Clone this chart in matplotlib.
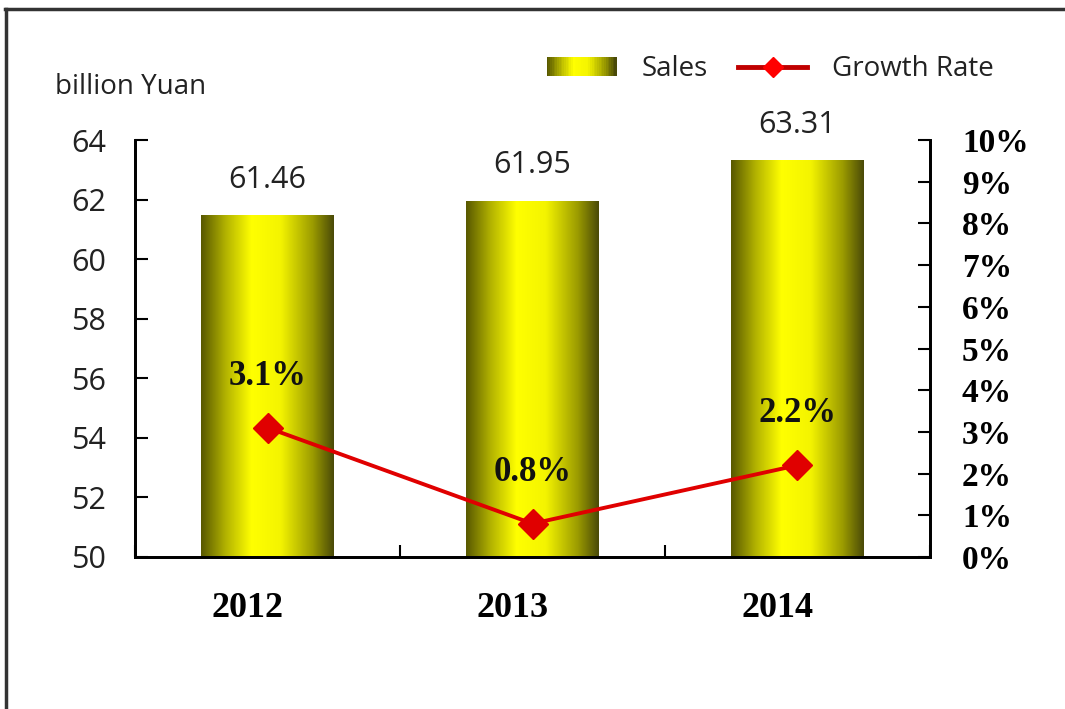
import matplotlib.pyplot as plt
import numpy as np
from matplotlib.colors import LinearSegmentedColormap
from matplotlib.lines import Line2D
from matplotlib.patches import Rectangle
from matplotlib.legend_handler import HandlerBase
from matplotlib.ticker import FuncFormatter, MultipleLocator
from matplotlib.transforms import ScaledTranslation

years = ["2012", "2013", "2014"]
sales = [61.46, 61.95, 63.31]          # billion Yuan
growth = [3.1, 0.8, 2.2]               # percent

SANS = ["Open Sans", "DejaVu Sans"]
SERIF = ["Liberation Serif", "DejaVu Serif"]

# olive -> yellow -> olive shading used for the cylinders
gold = LinearSegmentedColormap.from_list("gold", [
    (0.0, "#585800"), (0.18, "#b0b000"), (0.38, "#ffff00"),
    (0.60, "#f4f400"), (0.84, "#9c9c00"), (1.0, "#4a4a08")])
shade = np.linspace(0, 1, 256).reshape(1, -1)


class GradientHandler(HandlerBase):
    def create_artists(self, legend, orig_handle, xdescent, ydescent,
                       width, height, fontsize, trans):
        n = 40
        arts = []
        for i in range(n):
            r = Rectangle((-xdescent + width * i / n, -ydescent), width / n + 0.3,
                          height, facecolor=gold(i / (n - 1)), edgecolor="none",
                          transform=trans)
            arts.append(r)
        return arts


fig = plt.figure(figsize=(10.65, 7.09), dpi=100)
ax = fig.add_axes([0.1268, 0.2144, 0.7464, 0.5881])
ax.set_xlim(-0.5, 2.5)
ax.set_ylim(50, 64)

x = np.arange(len(years))
bars = ax.bar(x, sales, width=0.5, facecolor="none", edgecolor="none", zorder=2)
ybase = ax.get_ylim()[0]
for b in bars:
    x0, w, h = b.get_x(), b.get_width(), b.get_height()
    ax.imshow(shade, cmap=gold, aspect="auto", extent=(x0, x0 + w, ybase, h),
              zorder=2, interpolation="bilinear")
ax.set_xlim(-0.5, 2.5)
ax.set_ylim(50, 64)

for xi, v in zip(x, sales):
    ax.text(xi, v + 1.2, f"{v:.2f}", ha="center", va="center",
            fontsize=22, family=SANS, color="#222222")

ax.set_yticks(np.arange(50, 65, 2))
ax.tick_params(axis="y", direction="in", length=9, width=1.5, labelsize=22,
               pad=21, labelcolor="#222222")
for lab in ax.get_yticklabels():
    lab.set_family(SANS)

ax.set_xticks(x)
ax.set_xticklabels(years, family=SERIF, fontweight="bold", fontsize=26)
ax.tick_params(axis="x", which="major", length=0, pad=25)
shift = ScaledTranslation(-0.2, 0, fig.dpi_scale_trans)
for lab in ax.get_xticklabels():
    lab.set_transform(lab.get_transform() + shift)
ax.xaxis.set_minor_locator(MultipleLocator(1, offset=0.5))
ax.tick_params(axis="x", which="minor", direction="in", length=9, width=1.5)

for s in ["left", "bottom", "right"]:
    ax.spines[s].set_linewidth(2)
ax.spines["top"].set_visible(False)

ax2 = ax.twinx()
ax2.set_ylim(0, 10)
ax2.set_yticks(np.arange(0, 11, 1))
ax2.yaxis.set_major_formatter(FuncFormatter(lambda v, p: f"{v:.0f}%"))
ax2.tick_params(axis="y", direction="in", length=9, width=1.5, labelsize=24, pad=23)
for lab in ax2.get_yticklabels():
    lab.set_family(SERIF)
    lab.set_fontweight("bold")
for s in ["left", "bottom", "right"]:
    ax2.spines[s].set_linewidth(2)
ax2.spines["top"].set_visible(False)

ax2.plot(x, growth, color="#e00000", lw=2.8, marker="D", markersize=15,
         markeredgecolor="#e00000", zorder=3)
for xi, g in zip(x, growth):
    ax2.text(xi, g + 1.23, f"{g}%", ha="center", va="center", fontsize=25,
             family=SERIF, fontweight="bold", color="#111111")

fig.text(0.052, 0.877, "billion Yuan", fontsize=20, family=SANS, color="#222222",
         ha="left", va="center")

proxy = Rectangle((0, 0), 1, 1)
leg_line = Line2D([], [], color="#c00000", lw=3.5, marker="D", markersize=10,
                  markerfacecolor="#ff0000", markeredgecolor="#ff0000")
fig.legend([proxy, leg_line], ["Sales", "Growth Rate"], ncol=2, frameon=False,
           loc="center right", bbox_to_anchor=(0.957, 0.902),
           handler_map={Rectangle: GradientHandler()},
           prop={"family": SANS, "size": 20}, handlelength=2.5, handleheight=0.65,
           columnspacing=1.1, handletextpad=0.9, labelcolor="#222222")

# outer frame (top and left edges)
fig.add_artist(Line2D([0.005, 1.0], [0.987, 0.987], color="#333333", lw=2.5))
fig.add_artist(Line2D([0.006, 0.006], [0.0, 0.987], color="#333333", lw=2.5))

fig.savefig("out.png", dpi=100)
